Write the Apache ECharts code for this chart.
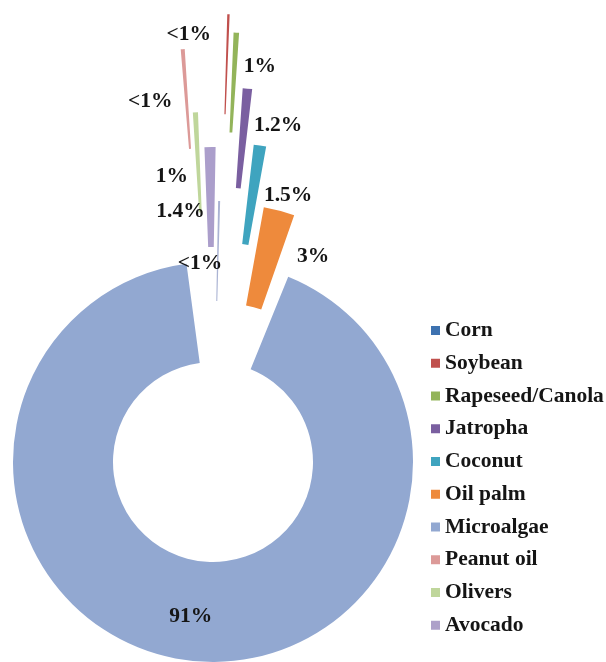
<!DOCTYPE html>
<html>
<head>
<meta charset="utf-8">
<script src="https://cdn.jsdelivr.net/npm/echarts@6/dist/echarts.min.js"></script>
<style>
  html, body { margin: 0; padding: 0; background: #fff; }
  #chart { width: 606px; height: 662px; }
</style>
</head>
<body>
<div id="chart"></div>
<script>
// Categories (legend order = slice order, clockwise from the top)
const categories = ['Corn', 'Soybean', 'Rapeseed/Canola', 'Jatropha', 'Coconut', 'Oil palm', 'Microalgae', 'Peanut oil', 'Olivers', 'Avocado'];
// Slice sizes (percent of the ring)
const values = [0.16, 0.19, 0.44, 0.76, 1.00, 2.50, 93.33, 0.32, 0.41, 0.89];
// Data label texts as printed on the chart
const labelTexts = ['<1%', '<1%', '1%', '1.2%', '1.5%', '3%', '91%', '<1%', '1%', '1.4%'];

// Styling
const colors = ['#3d72b0', '#c0504d', '#93b45a', '#7a5fa0', '#3fa4bf', '#ee8a3c', '#92a8d1', '#dc9a98', '#bfd69b', '#ada0c9'];
const sliceColors = ['#aab3d3', '#c0504d', '#93b45a', '#7a5fa0', '#3fa4bf', '#ee8a3c', '#92a8d1', '#dc9a98', '#bfd69b', '#ab9ecb'];
const explode = [61, 248, 230, 175, 120, 60, 0, 214, 150, 115];
const labelNudgeX = [-18, -38, 26, 35, 35, 46, -3, -36, -26, -30];
const labelNudgeY = [15, -27, -13, -10, 3, 0, 3, 5, 17, 17];
const microIndex = 6;
const startAngle = 88.94;
const microGap = 5.7;

const font = 'Liberation Serif, Times New Roman, serif';
const labelBase = {
  show: false,
  position: 'inside',
  color: '#151515',
  fontFamily: font,
  fontWeight: 'bold',
  fontSize: 21.5,
  textBorderWidth: 0
};
const hidden = { color: 'rgba(0,0,0,0)', borderWidth: 0 };

function baseSeries(i) {
  return {
    type: 'pie',
    name: 'slice' + i,
    center: [213, 462],
    radius: [100, 200],
    startAngle: startAngle,
    clockwise: true,
    avoidLabelOverlap: false,
    animation: false,
    silent: true,
    emphasis: { disabled: true },
    label: labelBase,
    labelLine: { show: false },
    labelLayout: function () {
      return { dx: labelNudgeX[i], dy: labelNudgeY[i] };
    }
  };
}

const series = [];
categories.forEach(function (name, i) {
  const s = baseSeries(i);
  if (i === microIndex) {
    // The big ring piece, with the other slices grouped on both sides of it
    let before = 0, after = 0;
    values.forEach(function (v, j) { if (j < i) before += v; if (j > i) after += v; });
    s.padAngle = microGap;
    s.data = [
      { name: '_before', value: before, itemStyle: hidden, label: { show: false } },
      { name: name, value: values[i], itemStyle: { color: sliceColors[i], borderWidth: 0 },
        label: { show: true, formatter: labelTexts[i] } },
      { name: '_after', value: after, itemStyle: hidden, label: { show: false } }
    ];
  } else {
    s.selectedMode = 'single';
    s.selectedOffset = explode[i];
    s.data = categories.map(function (n, j) {
      if (j === i) {
        return {
          name: n,
          value: values[j],
          selected: true,
          itemStyle: { color: sliceColors[j], borderWidth: 0 },
          select: { itemStyle: { color: sliceColors[j], borderWidth: 0 } },
          label: { show: true, formatter: labelTexts[j] }
        };
      }
      return { name: n, value: values[j], itemStyle: hidden, label: { show: false }, labelLine: { show: false } };
    });
  }
  series.push(s);
});

const chart = echarts.init(document.getElementById('chart'), null, { renderer: 'canvas' });
chart.setOption({
  backgroundColor: '#ffffff',
  animation: false,
  legend: {
    orient: 'vertical',
    left: 431,
    top: 319.5,
    padding: 0,
    itemWidth: 9,
    itemHeight: 9,
    itemGap: 10.75,
    icon: 'rect',
    selectedMode: false,
    textStyle: {
      fontFamily: font,
      fontWeight: 'bold',
      fontSize: 21.5,
      lineHeight: 21.5,
      color: '#151515'
    },
    data: categories.map(function (n, j) {
      return { name: n, itemStyle: { color: colors[j] } };
    })
  },
  series: series
});
</script>
</body>
</html>
